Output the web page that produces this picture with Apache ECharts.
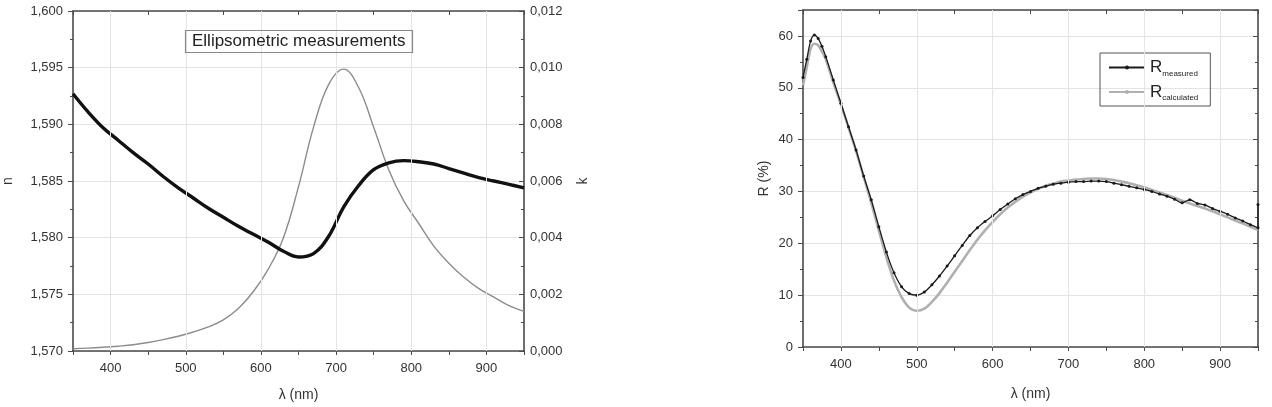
<!DOCTYPE html>
<html>
<head>
<meta charset="utf-8">
<script src="https://cdn.jsdelivr.net/npm/echarts@6/dist/echarts.min.js"></script>
<style>
  html, body { margin: 0; padding: 0; background: #fff; }
  #chart { width: 1272px; height: 407px; }
</style>
</head>
<body>
<div id="chart"></div>
<script>
// left panel: refractive index n and extinction k (read every 20 nm)
const ellWl = [350, 370, 390, 410, 430, 450, 470, 490, 510, 530, 550, 570, 590, 610, 630, 650, 670, 690, 710, 730, 750, 770, 790, 810, 830, 850, 870, 890, 910, 930, 950]
const nVals = [1.5927, 1.5911, 1.5897, 1.5886, 1.5875, 1.5865, 1.5854, 1.5844, 1.5835, 1.5826, 1.5818, 1.5810, 1.5803, 1.5796, 1.5788, 1.5783, 1.5786, 1.5801, 1.5827, 1.5846, 1.5860, 1.5866, 1.5868, 1.5867, 1.5865, 1.5861, 1.5857, 1.5853, 1.5850, 1.5847, 1.5844]
const kVals = [0.00008, 0.0001, 0.00013, 0.00017, 0.00022, 0.0003, 0.0004, 0.00052, 0.00067, 0.00085, 0.0011, 0.0015, 0.0021, 0.0029, 0.0040, 0.0058, 0.0079, 0.0094, 0.00995, 0.0093, 0.0079, 0.0064, 0.0053, 0.0045, 0.0037, 0.0031, 0.0026, 0.0022, 0.0019, 0.0016, 0.0014]

// right panel: reflectance
const rWl = [350, 355, 360, 365, 370, 375, 380, 390, 400, 410, 420, 430, 440, 450, 460, 470, 480, 490, 500, 510, 520, 530, 540, 550, 560, 570, 580, 590, 600, 610, 620, 630, 640, 650, 660, 670, 680, 690, 700, 710, 720, 730, 740, 750, 760, 770, 780, 790, 800, 810, 820, 830, 840, 850, 860, 870, 880, 890, 900, 910, 920, 930, 940, 950]
const rMeasured = [52, 55.5, 59, 60.2, 59.5, 58, 56, 51.5, 47, 42.5, 38, 33, 28.4, 23.2, 18.3, 14.3, 11.6, 10.3, 10.0, 10.6, 12.0, 13.7, 15.6, 17.6, 19.6, 21.5, 23.0, 24.2, 25.3, 26.5, 27.6, 28.6, 29.4, 30.0, 30.6, 31.0, 31.4, 31.6, 31.8, 31.9, 31.9, 32.0, 32.0, 31.9, 31.6, 31.3, 31.0, 30.7, 30.4, 30.0, 29.5, 29.1, 28.5, 27.8, 28.4, 27.7, 27.4, 26.7, 26.2, 25.6, 24.9, 24.3, 23.6, 23.0]
const rCalculated = [50.5, 54, 57.5, 58.5, 58.2, 57, 55.5, 51, 46.8, 42.3, 37.8, 32.8, 27.8, 22.5, 17.3, 12.8, 9.6, 7.6, 7.0, 7.4, 8.7, 10.4, 12.4, 14.5, 16.6, 18.7, 20.7, 22.5, 24.1, 25.6, 26.9, 28.0, 29.0, 29.8, 30.5, 31.1, 31.5, 31.9, 32.1, 32.3, 32.4, 32.5, 32.5, 32.4, 32.2, 31.9, 31.6, 31.2, 30.8, 30.3, 29.8, 29.3, 28.8, 28.2, 27.7, 27.2, 26.7, 26.2, 25.6, 25.0, 24.4, 23.8, 23.2, 22.6]
// vertical blip at the very end of the measured trace
const rEndBlip = [950, 27.5]

// labelled wavelengths (ticks run every 50 nm from 350)
const xTicks = [400, 500, 600, 700, 800, 900]

const font = 'Liberation Sans, Arial, sans-serif'
const axisColor = '#4a4a4a'
const gridColor = '#e4e4e4'
const comma = v => String(v).replace('.', ',')

function pairs(xs, ys) {
  return xs.map((x, i) => [x, ys[i]])
}

const chart = echarts.init(document.getElementById('chart'))

function xAxisPair(gridIndex) {
  const base = {
    type: 'value',
    gridIndex,
    min: 350,
    max: 950,
    interval: 50,
    axisLine: { onZero: false, lineStyle: { color: axisColor, width: 1.6 } },
    splitLine: { show: false }
  }
  return [
    {
      ...base,
      position: 'bottom',
      name: 'λ (nm)',
      nameLocation: 'middle',
      nameGap: gridIndex === 0 ? 37 : 40,
      nameTextStyle: { fontFamily: font, fontSize: 14, color: '#333' },
      axisTick: { length: 4, lineStyle: { color: axisColor } },
      axisLabel: {
        fontFamily: font, fontSize: 13, color: '#333', margin: 11,
        formatter: v => (xTicks.includes(v) ? String(v) : '')
      }
    },
    {
      ...base,
      position: 'top',
      axisTick: { inside: true, length: 4, lineStyle: { color: axisColor } },
      axisLabel: { show: false }
    }
  ]
}

// vertical grid lines at the labelled wavelengths
function vGrid(xAxisIndex, yAxisIndex) {
  return {
    type: 'line',
    xAxisIndex,
    yAxisIndex,
    data: [],
    silent: true,
    z: 0,
    markLine: {
      silent: true,
      symbol: 'none',
      label: { show: false },
      lineStyle: { color: gridColor, type: 'solid', width: 1 },
      data: xTicks.map(x => ({ xAxis: x }))
    }
  }
}

const option = {
  animation: false,
  backgroundColor: '#fff',
  title: {
    text: 'Ellipsometric measurements',
    left: 185,
    top: 30,
    padding: [3, 7],
    borderColor: '#8a8a8a',
    borderWidth: 1.2,
    textStyle: { fontFamily: font, fontSize: 17, fontWeight: 'normal', color: '#222' }
  },
  legend: {
    left: 1100,
    top: 53,
    orient: 'vertical',
    itemWidth: 36,
    itemHeight: 5,
    itemGap: 6,
    padding: [6, 12, 4, 8],
    borderColor: '#555',
    borderWidth: 1,
    data: ['R_measured', 'R_calculated'],
    formatter: name => (name === 'R_measured' ? '{r|R}{s|measured}' : '{r|R}{s|calculated}'),
    textStyle: {
      fontFamily: font,
      color: '#222',
      rich: {
        r: { fontSize: 17, fontFamily: font, color: '#222' },
        s: { fontSize: 8, fontFamily: font, color: '#222', padding: [12, 0, 0, 0] }
      }
    }
  },
  grid: [
    { left: 64, right: 748, top: 11, bottom: 56 },
    { left: 803, right: 14, top: 10, bottom: 60 }
  ],
  xAxis: [...xAxisPair(0), ...xAxisPair(1)],
  yAxis: [
    {
      type: 'value',
      gridIndex: 0,
      position: 'left',
      min: 1.57,
      max: 1.6,
      interval: 0.005,
      name: 'n',
      nameLocation: 'middle',
      nameGap: 58,
      nameRotate: 90,
      nameTextStyle: { fontFamily: font, fontSize: 14, color: '#333' },
      axisLine: { show: true, lineStyle: { color: axisColor, width: 1.6 } },
      axisTick: { show: true, length: 5, lineStyle: { color: axisColor } },
      minorTick: { show: true, splitNumber: 2, length: 3, lineStyle: { color: axisColor } },
      axisLabel: {
        fontFamily: font, fontSize: 13, color: '#333', margin: 10,
        formatter: v => comma(v.toFixed(3))
      },
      splitLine: { show: true, lineStyle: { color: gridColor } }
    },
    {
      type: 'value',
      gridIndex: 0,
      position: 'right',
      min: 0,
      max: 0.012,
      interval: 0.002,
      name: 'k',
      nameLocation: 'middle',
      nameGap: 52,
      nameRotate: 90,
      nameTextStyle: { fontFamily: font, fontSize: 14, color: '#333' },
      axisLine: { show: true, lineStyle: { color: axisColor, width: 1.6 } },
      axisTick: { show: true, inside: true, length: 5, lineStyle: { color: axisColor } },
      minorTick: { show: true, splitNumber: 2, length: 3, lineStyle: { color: axisColor } },
      axisLabel: {
        fontFamily: font, fontSize: 13, color: '#333', margin: 6,
        formatter: v => comma(v.toFixed(3))
      },
      splitLine: { show: false }
    },
    {
      type: 'value',
      gridIndex: 1,
      position: 'left',
      min: 0,
      max: 65,
      interval: 10,
      name: 'R (%)',
      nameLocation: 'middle',
      nameGap: 32,
      nameRotate: 90,
      nameTextStyle: { fontFamily: font, fontSize: 14, color: '#333' },
      axisLine: { show: true, lineStyle: { color: axisColor, width: 1.6 } },
      axisTick: { show: true, length: 5, lineStyle: { color: axisColor } },
      minorTick: { show: true, splitNumber: 2, length: 3, lineStyle: { color: axisColor } },
      axisLabel: {
        fontFamily: font, fontSize: 13, color: '#333', margin: 10,
        formatter: v => (v <= 60 ? String(v) : '')
      },
      splitLine: { show: true, lineStyle: { color: gridColor } }
    },
    {
      type: 'value',
      gridIndex: 1,
      position: 'right',
      min: 0,
      max: 65,
      interval: 10,
      axisLine: { show: true, lineStyle: { color: axisColor, width: 1.6 } },
      axisTick: { show: true, inside: true, length: 5, lineStyle: { color: axisColor } },
      minorTick: { show: true, splitNumber: 2, length: 3, lineStyle: { color: axisColor } },
      axisLabel: { show: false },
      splitLine: { show: false }
    }
  ],
  series: [
    vGrid(0, 0),
    vGrid(2, 2),
    {
      name: 'k',
      type: 'line',
      xAxisIndex: 0,
      yAxisIndex: 1,
      data: pairs(ellWl, kVals),
      smooth: 0.4,
      showSymbol: false,
      lineStyle: { color: '#8c8c8c', width: 1.4 }
    },
    {
      name: 'n',
      type: 'line',
      xAxisIndex: 0,
      yAxisIndex: 0,
      data: pairs(ellWl, nVals),
      smooth: 0.4,
      showSymbol: false,
      lineStyle: { color: '#111', width: 3.4 }
    },
    {
      name: 'R_calculated',
      type: 'line',
      xAxisIndex: 2,
      yAxisIndex: 2,
      data: pairs(rWl, rCalculated),
      smooth: 0.35,
      symbol: 'none',
      itemStyle: { color: '#b0b0b0' },
      lineStyle: { color: '#b0b0b0', width: 2.6 }
    },
    {
      name: 'R_measured',
      type: 'line',
      xAxisIndex: 2,
      yAxisIndex: 2,
      data: pairs(rWl, rMeasured).concat([rEndBlip]),
      smooth: 0.3,
      symbol: 'circle',
      symbolSize: 3,
      showSymbol: true,
      itemStyle: { color: '#1a1a1a' },
      lineStyle: { color: '#1a1a1a', width: 1.3 }
    }
  ]
}

chart.setOption(option)
</script>
</body>
</html>
